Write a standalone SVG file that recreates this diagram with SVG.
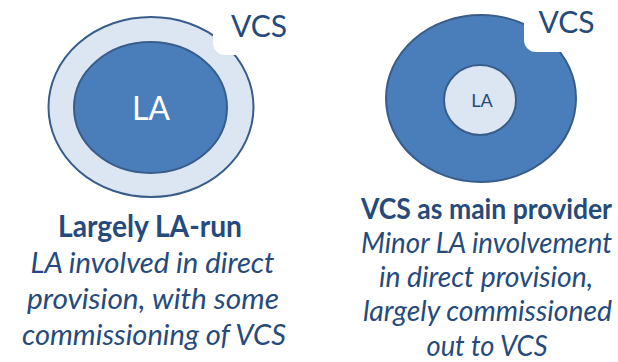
<svg xmlns="http://www.w3.org/2000/svg" width="618" height="362" viewBox="0 0 618 362">
  <style>
    .dark { fill: #4a7ebb; stroke: #385d8a; stroke-width: 2; }
    .light { fill: #dce6f2; stroke: #385d8a; stroke-width: 2; }
    .tag { fill: #ffffff; stroke: none; }
    .t { font-family: Lato, "Open Sans", "Liberation Sans", sans-serif; fill: #254a7b; text-anchor: middle; }
    .b { font-weight: bold; }
    .i { font-style: italic; }
    .l { font-size: 29.6px; }
    .r { font-size: 28.4px; }
    .vcs { font-size: 30px; }
  </style>
  <rect width="618" height="362" fill="#ffffff"/>
  <g id="left-diagram">
    <ellipse class="light" cx="151" cy="107" rx="102.5" ry="90"/>
    <ellipse class="dark" cx="150.5" cy="107.5" rx="76.5" ry="65.5"/>
    <text class="t" x="151" y="120" font-size="32" style="fill:#ffffff">LA</text>
    <rect class="tag" x="213" y="-20" width="110" height="75" rx="12"/>
    <text class="t vcs" x="259" y="37">VCS</text>
  </g>
  <g id="right-diagram">
    <ellipse class="dark" cx="481" cy="98.5" rx="95" ry="83.5"/>
    <ellipse class="light" cx="480" cy="100" rx="36" ry="35"/>
    <text class="t" x="482" y="107" font-size="18">LA</text>
    <rect class="tag" x="524" y="-20" width="110" height="72" rx="12"/>
    <text class="t vcs" x="566.5" y="33">VCS</text>
  </g>
  <g id="left-caption">
    <text class="t b l" x="150" y="237" textLength="184" lengthAdjust="spacingAndGlyphs">Largely LA-run</text>
    <text class="t i l" x="152.5" y="273" textLength="244" lengthAdjust="spacingAndGlyphs">LA involved in direct</text>
    <text class="t i l" x="153" y="309" textLength="252" lengthAdjust="spacingAndGlyphs">provision, with some</text>
    <text class="t i l" x="154" y="345" textLength="264" lengthAdjust="spacingAndGlyphs">commissioning of VCS</text>
  </g>
  <g id="right-caption">
    <text class="t b r" x="486.5" y="219" textLength="251" lengthAdjust="spacingAndGlyphs">VCS as main provider</text>
    <text class="t i r" x="486.5" y="253" textLength="251" lengthAdjust="spacingAndGlyphs">Minor LA involvement</text>
    <text class="t i r" x="486" y="287" textLength="214" lengthAdjust="spacingAndGlyphs">in direct provision,</text>
    <text class="t i r" x="487.5" y="321" textLength="249" lengthAdjust="spacingAndGlyphs">largely commissioned</text>
    <text class="t i r" x="487" y="356" textLength="121" lengthAdjust="spacingAndGlyphs">out to VCS</text>
  </g>
  <g id="connectors"/>
</svg>
